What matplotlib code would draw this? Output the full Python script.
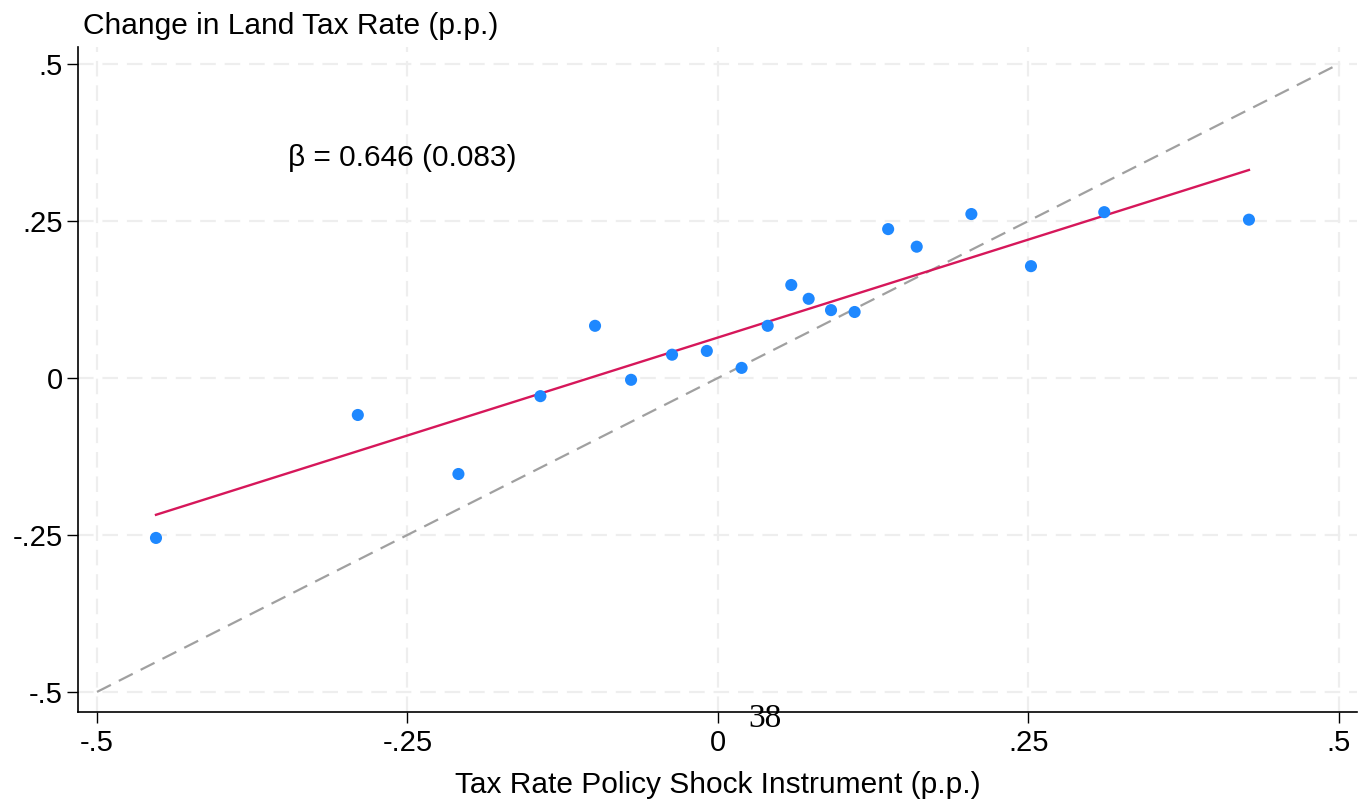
import numpy as np
import matplotlib.pyplot as plt

plt.rcParams['font.family'] = ['Liberation Sans', 'DejaVu Sans']

# binned means
bin_x = [-0.4525, -0.290, -0.209, -0.143, -0.099, -0.070, -0.037, -0.009, 0.019, 0.040,
         0.059, 0.073, 0.091, 0.110, 0.137, 0.160, 0.204, 0.252, 0.311, 0.4275]
bin_y = [-0.2548, -0.059, -0.153, -0.029, 0.083, -0.003, 0.037, 0.043, 0.016, 0.083,
         0.148, 0.126, 0.108, 0.105, 0.237, 0.209, 0.261, 0.178, 0.264, 0.252]

# fitted line
fit_intercept = 0.0644
fit_slope = 0.624

ticks = [-0.5, -0.25, 0, 0.25, 0.5]
tick_labels = ['-.5', '-.25', '0', '.25', '.5']

fig = plt.figure(figsize=(13.59, 8.01), dpi=100)
ax = fig.add_axes([78 / 1359, 1 - 712 / 801, (1357 - 78) / 1359, (712 - 47) / 801])

ax.set_xlim(-0.5153, 0.5145)
ax.set_ylim(-0.532, 0.527)

ax.grid(True, color='#eeeeee', linestyle=(0, (7, 4)), linewidth=1.6)
ax.set_axisbelow(True)

ax.plot([-0.5, 0.5], [-0.5, 0.5], color='#a0a0a0', linestyle=(0, (7, 4)), linewidth=1.6, zorder=2)

fx = np.array([min(bin_x), max(bin_x)])
ax.plot(fx, fit_intercept + fit_slope * fx, color='#d6175a', linewidth=1.7, zorder=3)

ax.scatter(bin_x, bin_y, s=76, color='#1e88ff', edgecolors='none', zorder=4)

ax.text(-0.346, 0.35, 'β = 0.646 (0.083)', fontsize=21.5, va='center', ha='left')

ax.set_xticks(ticks)
ax.set_xticklabels(tick_labels)
ax.set_yticks(ticks)
ax.set_yticklabels(tick_labels)
ax.tick_params(axis='both', direction='out', length=8, width=1, labelsize=21)
ax.tick_params(axis='x', pad=4)
ax.tick_params(axis='y', pad=3)

for s in ['top', 'right']:
    ax.spines[s].set_visible(False)
for s in ['left', 'bottom']:
    ax.spines[s].set_linewidth(1.2)

ax.set_xlabel('Tax Rate Policy Shock Instrument (p.p.)', fontsize=21.5, labelpad=10)
fig.text(83 / 1359, 1 - 26 / 801, 'Change in Land Tax Rate (p.p.)', fontsize=21.5, va='center', ha='left')

fig.text(765 / 1359, 1 - 719 / 801, '38', fontsize=24, family='Liberation Serif', va='center', ha='center')

fig.savefig('out.png', dpi=100)
